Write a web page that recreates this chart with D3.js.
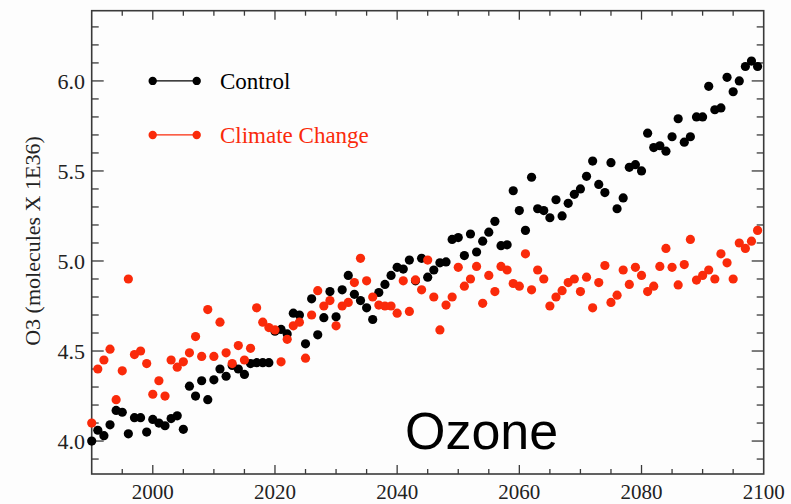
<!DOCTYPE html>
<html>
<head>
<meta charset="utf-8">
<script src="https://cdn.jsdelivr.net/npm/d3@7"></script>
<style>
  html, body { margin: 0; padding: 0; background: #fdfdfd; }
  #chart { width: 791px; height: 504px; }
</style>
</head>
<body>
<div id="chart"></div>
<script>
const years = d3.range(1990, 2100);

const controlValues = [
  4.00, 4.06, 4.03, 4.09, 4.17, 4.16, 4.04, 4.13, 4.13, 4.05,
  4.12, 4.10, 4.085, 4.125, 4.14, 4.065, 4.305, 4.25, 4.335, 4.23,
  4.34, 4.40, 4.36, 4.42, 4.40, 4.37, 4.43, 4.435, 4.435, 4.435,
  4.61, 4.62, 4.595, 4.71, 4.70, 4.54, 4.79, 4.59, 4.685, 4.83,
  4.69, 4.84, 4.92, 4.815, 4.78, 4.74, 4.675, 4.825, 4.87, 4.92,
  4.965, 4.955, 5.005, 4.89, 5.015, 4.91, 4.95, 4.99, 4.995, 5.12,
  5.13, 5.03, 5.15, 5.05, 5.11, 5.16, 5.22, 5.085, 5.09, 5.39,
  5.28, 5.17, 5.465, 5.29, 5.28, 5.24, 5.34, 5.25, 5.32, 5.37,
  5.40, 5.47, 5.555, 5.425, 5.38, 5.546, 5.29, 5.35, 5.52, 5.535,
  5.50, 5.71, 5.63, 5.64, 5.61, 5.69, 5.79, 5.66, 5.69, 5.80,
  5.80, 5.97, 5.84, 5.85, 6.02, 5.94, 6.00, 6.08, 6.11, 6.08
];

const climateValues = [
  4.10, 4.40, 4.45, 4.51, 4.23, 4.39, 4.90, 4.48, 4.50, 4.43,
  4.26, 4.335, 4.25, 4.45, 4.41, 4.44, 4.49, 4.58, 4.47, 4.73,
  4.47, 4.66, 4.49, 4.43, 4.53, 4.45, 4.515, 4.74, 4.66, 4.63,
  4.617, 4.44, 4.565, 4.64, 4.66, 4.46, 4.70, 4.835, 4.75, 4.78,
  4.64, 4.75, 4.77, 4.88, 5.015, 4.89, 4.80, 4.755, 4.75, 4.75,
  4.71, 4.89, 4.72, 4.895, 4.84, 5.005, 4.80, 4.617, 4.755, 4.80,
  4.965, 4.86, 4.90, 4.97, 4.765, 4.92, 4.83, 4.97, 4.95, 4.875,
  4.86, 5.04, 4.84, 4.95, 4.90, 4.75, 4.80, 4.835, 4.88, 4.90,
  4.83, 4.91, 4.74, 4.88, 4.975, 4.77, 4.81, 4.95, 4.87, 4.965,
  4.92, 4.83, 4.86, 4.97, 5.07, 4.965, 4.867, 4.98, 5.12, 4.894,
  4.92, 4.95, 4.90, 5.04, 4.99, 4.90, 5.10, 5.07, 5.11, 5.17
];

const xTickValues = [2000, 2020, 2040, 2060, 2080, 2100];
const yTickValues = [4.0, 4.5, 5.0, 5.5, 6.0];
const seriesNames = ['Control', 'Climate Change'];

const THEME = {
  bg: '#fdfdfd',
  frame: '#3a3a3a',
  control: '#000000',
  climate: '#fa2a0a',
  serif: '"Liberation Serif", "Times New Roman", serif',
  sans: '"Liberation Sans", Arial, sans-serif',
};

const width = 791;
const height = 504;
const plot = { left: 91.7, right: 763.7, top: 10.7, bottom: 474 };

const svg = d3.select('#chart')
  .append('svg')
  .attr('width', width)
  .attr('height', height)
  .attr('viewBox', `0 0 ${width} ${height}`);

svg.append('rect')
  .attr('width', width)
  .attr('height', height)
  .attr('fill', THEME.bg);

const x = d3.scaleLinear().domain([1990, 2100]).range([plot.left, plot.right]);
const y = d3.scaleLinear().domain([3.817, 6.39]).range([plot.bottom, plot.top]);

// minor ticks every 5 years / 0.1 units, drawn inward on all four sides
const xMinor = d3.range(1995, 2100, 5);
const yMinor = d3.range(39, 64).map((d) => d / 10);

function isMajorX(v) { return v % 20 === 0; }
function isMajorY(v) { return Math.abs(v * 2 - Math.round(v * 2)) < 1e-6; }

const ticks = svg.append('g')
  .attr('stroke', THEME.frame)
  .attr('stroke-width', 1.3);

xMinor.forEach((v) => {
  const len = isMajorX(v) ? 9 : 5;
  ticks.append('line')
    .attr('x1', x(v)).attr('x2', x(v))
    .attr('y1', plot.bottom).attr('y2', plot.bottom - len);
  ticks.append('line')
    .attr('x1', x(v)).attr('x2', x(v))
    .attr('y1', plot.top).attr('y2', plot.top + len);
});

yMinor.forEach((v) => {
  const len = isMajorY(v) ? 12 : 7;
  ticks.append('line')
    .attr('x1', plot.left).attr('x2', plot.left + len)
    .attr('y1', y(v)).attr('y2', y(v));
  ticks.append('line')
    .attr('x1', plot.right).attr('x2', plot.right - len)
    .attr('y1', y(v)).attr('y2', y(v));
});

svg.append('rect')
  .attr('x', plot.left)
  .attr('y', plot.top)
  .attr('width', plot.right - plot.left)
  .attr('height', plot.bottom - plot.top)
  .attr('fill', 'none')
  .attr('stroke', THEME.frame)
  .attr('stroke-width', 1.6);

// tick labels
svg.append('g')
  .selectAll('text')
  .data(yTickValues)
  .join('text')
  .attr('x', 85)
  .attr('y', (d) => y(d))
  .attr('dy', '0.36em')
  .attr('text-anchor', 'end')
  .attr('font-family', THEME.serif)
  .attr('font-size', 22)
  .attr('fill', '#222')
  .text((d) => d3.format('.1f')(d));

// bottom labels sit right at the picture's lower edge
svg.append('g')
  .selectAll('text')
  .data(xTickValues)
  .join('text')
  .attr('x', (d) => x(d))
  .attr('y', 499)
  .attr('text-anchor', 'middle')
  .attr('font-family', THEME.serif)
  .attr('font-size', 21)
  .attr('fill', '#222')
  .text((d) => d);

svg.append('text')
  .attr('transform', `translate(40, ${241}) rotate(-90)`)
  .attr('text-anchor', 'middle')
  .attr('font-family', THEME.serif)
  .attr('font-size', 22)
  .attr('fill', '#222')
  .text('O3 (molecules X 1E36)');

// data points
const rows = years.map((yr, i) => ({ year: yr, control: controlValues[i], climate: climateValues[i] }));

svg.append('g')
  .selectAll('circle')
  .data(rows)
  .join('circle')
  .attr('cx', (d) => x(d.year))
  .attr('cy', (d) => y(d.control))
  .attr('r', 4.6)
  .attr('fill', THEME.control);

svg.append('g')
  .selectAll('circle')
  .data(rows)
  .join('circle')
  .attr('cx', (d) => x(d.year))
  .attr('cy', (d) => y(d.climate))
  .attr('r', 4.6)
  .attr('fill', THEME.climate);

// legend
const legend = svg.append('g');
const legendColors = [THEME.control, THEME.climate];
const legendLevels = [6.0, 5.7];

seriesNames.forEach((name, i) => {
  const ly = y(legendLevels[i]);
  const g = legend.append('g');
  g.append('line')
    .attr('x1', 152.7).attr('x2', 196.7)
    .attr('y1', ly).attr('y2', ly)
    .attr('stroke', legendColors[i])
    .attr('stroke-width', 1.2);
  [152.7, 196.7].forEach((cx) => {
    g.append('circle')
      .attr('cx', cx)
      .attr('cy', ly)
      .attr('r', 4.2)
      .attr('fill', legendColors[i]);
  });
  g.append('text')
    .attr('x', 220)
    .attr('y', ly)
    .attr('dy', '0.33em')
    .attr('font-family', THEME.serif)
    .attr('font-size', 23)
    .attr('fill', legendColors[i])
    .text(name);
});

svg.append('text')
  .attr('x', 405)
  .attr('y', 449)
  .attr('font-family', THEME.sans)
  .attr('font-size', 52)
  .attr('fill', '#000')
  .text('Ozone');
</script>
</body>
</html>
